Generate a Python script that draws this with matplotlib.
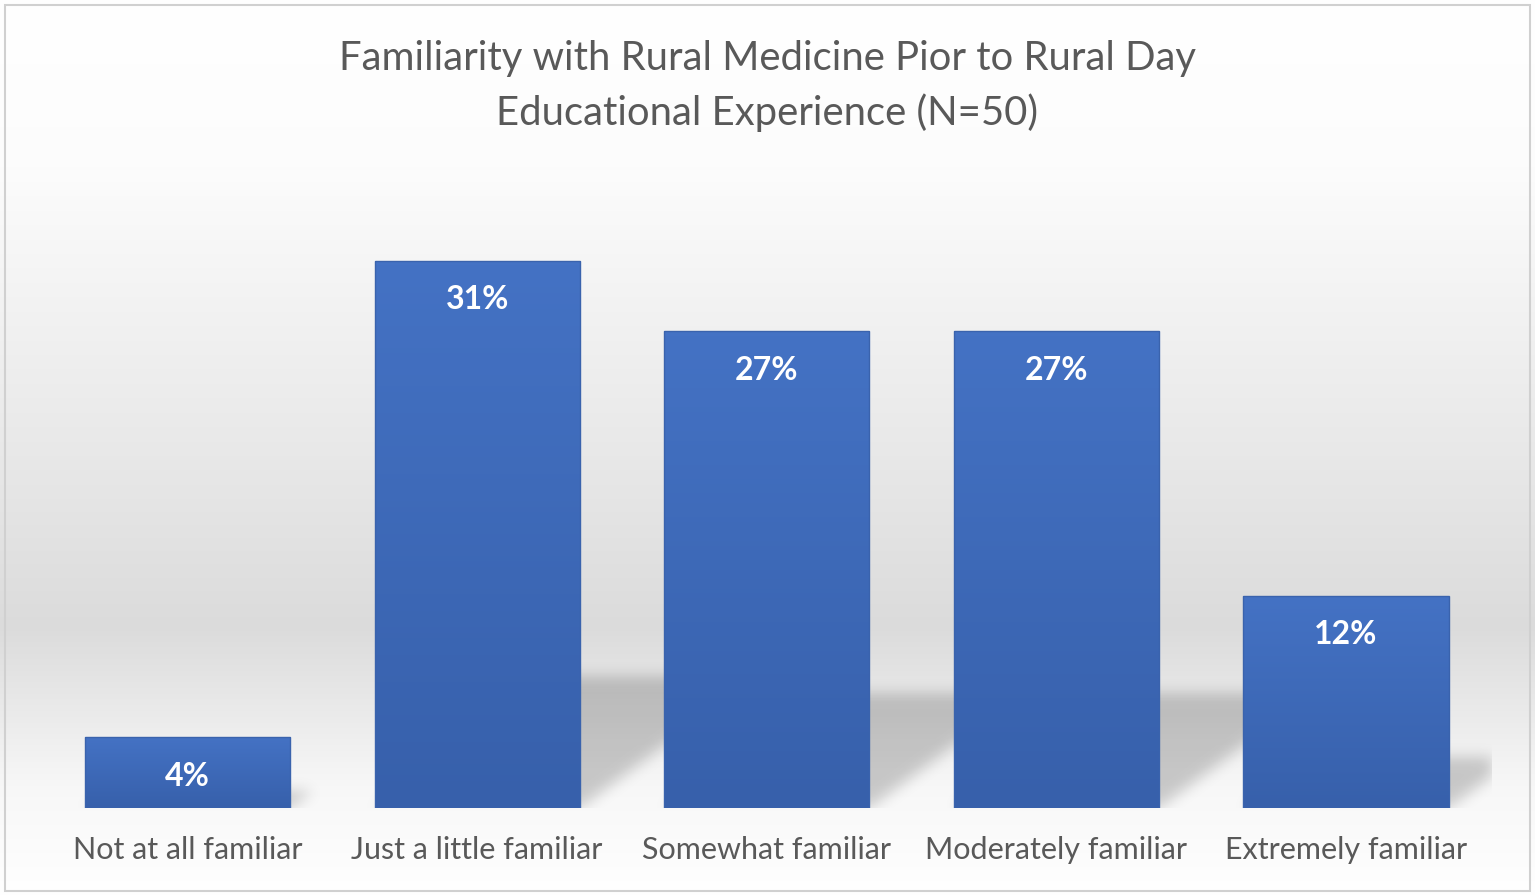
import numpy as np
import matplotlib
matplotlib.use('Agg')
import matplotlib.pyplot as plt
from matplotlib.patches import Rectangle
from matplotlib.colors import LinearSegmentedColormap

categories = ['Not at all familiar', 'Just a little familiar', 'Somewhat familiar',
              'Moderately familiar', 'Extremely familiar']
values = [4, 31, 27, 27, 12]
labels = ['4%', '31%', '27%', '27%', '12%']
title = 'Familiarity with Rural Medicine Pior to Rural Day\nEducational Experience (N=50)'

plt.rcParams['font.family'] = ['Lato', 'DejaVu Sans']

W, H = 1535, 896
fig = plt.figure(figsize=(W / 100, H / 100), dpi=100)

# background gradient (white -> light gray -> white)
bg = fig.add_axes([0, 0, 1, 1])
bg.set_xlim(0, 1)
bg.set_ylim(0, 1)
bg.axis('off')
ys = np.linspace(1, 0, 400)
stops_y = [1.0, 0.82, 0.45, 0.30, 0.12, 0.0]
stops_v = [1.0, 0.99, 0.90, 0.86, 0.97, 1.0]
shade = np.interp(-ys, [-s for s in stops_y], stops_v)
grad = np.dstack([shade, shade, shade]).reshape(400, 1, 3)
bg.imshow(grad, extent=[0, 1, 0, 1], aspect='auto', zorder=0)
bg.add_patch(Rectangle((5 / W, 5 / H), 1 - 10 / W, 1 - 10 / H, fill=False,
                       edgecolor='#d0d0d0', linewidth=1.5, zorder=2))

fig.text(0.5, 1 - 86 / H, title, ha='center', va='center', fontsize=28.8,
         color='#595959', linespacing=1.5)

# plot area
left, right = 42.7, 1490.8
bottom, top = 808, 190
ax = fig.add_axes([left / W, 1 - bottom / H, (right - left) / W, (bottom - top) / H])
ax.patch.set_alpha(0)
for s in ax.spines.values():
    s.set_visible(False)
ax.set_yticks([])
ax.set_xticks(range(len(categories)))
ax.set_xticklabels(categories, fontsize=22, color='#595959')
ax.tick_params(axis='x', length=0, pad=20)

bar_w = 0.708
bar_cmap = LinearSegmentedColormap.from_list('bar', ['#3760ab', '#4472c4'])

# perspective shadows: skewed, squashed copy of each bar, blurred
nx, ny = 1448, 618
px_x = 1448 / 5.0   # pixels per category unit
px_y = 618 / 35.0   # pixels per value unit
gx = np.linspace(-0.5, 4.5, nx)
gy = np.linspace(0, 35, ny)
X, Y = np.meshgrid(gx, gy)
mask = np.zeros_like(X)
squash = 0.24
skew = 1.35  # px right per px up
for i, v in enumerate(values):
    sh = squash * v
    shift = skew * sh * px_y / px_x
    t = np.clip(Y / sh, 0, None)
    inside = (Y <= sh) & (X >= i - bar_w / 2 + t * shift) & (X <= i + bar_w / 2 + t * shift)
    mask[inside] = 1.0

def blur(a, sigma, axis):
    r = int(3 * sigma)
    k = np.exp(-0.5 * (np.arange(-r, r + 1) / sigma) ** 2)
    k /= k.sum()
    return np.apply_along_axis(lambda m: np.convolve(m, k, mode='same'), axis, a)

mask = blur(blur(mask, 7, 0), 7, 1)
rgba = np.zeros(X.shape + (4,))
rgba[..., 3] = 0.19 * mask
ax.imshow(rgba, extent=[-0.5, 4.5, 0, 35], origin='lower', aspect='auto', zorder=2)

bars = ax.bar(range(len(values)), values, width=bar_w, color='none', zorder=3)
for i, (b, v) in enumerate(zip(bars, values)):
    x0 = b.get_x()
    g = np.linspace(0, 1, 100)[:, None]
    im2 = ax.imshow(g, cmap=bar_cmap, extent=[x0, x0 + bar_w, 0, v], origin='lower',
                    aspect='auto', zorder=3)
    im2.set_clip_path(b)
    ax.add_patch(Rectangle((x0, 0), bar_w, v, fill=False, edgecolor='#3a63ad',
                           linewidth=1, zorder=4))
    ax.text(i, v - 2.2, labels[i], ha='center', va='center', fontsize=23,
            fontweight='bold', color='white', zorder=5)

ax.set_xlim(-0.5, len(values) - 0.5)
ax.set_ylim(0, 35)

fig.savefig('out.png', dpi=100)
